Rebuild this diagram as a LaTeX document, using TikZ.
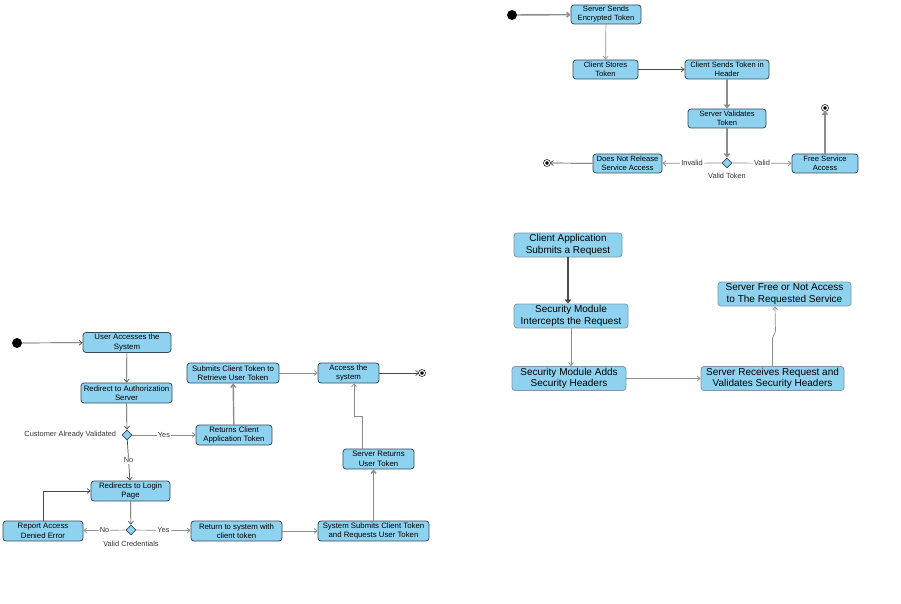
\documentclass[tikz,border=0pt]{standalone}
\usepackage{fontspec}
\setmainfont{Liberation Sans}
\usetikzlibrary{shapes.geometric,arrows.meta,positioning,calc}
\definecolor{boxfill}{HTML}{8FD2F0}
\definecolor{boxline}{HTML}{34495A}
\definecolor{softline}{HTML}{7D97A8}
\definecolor{arrdark}{HTML}{4A4A4A}
\definecolor{arrgray}{HTML}{8C8C8C}

\begin{document}
\begin{tikzpicture}[x=1pt, y=-1pt,
  act/.style={rectangle, draw=boxline, fill=boxfill, rounded corners=3pt, minimum width=#1, align=center, inner sep=1pt, line width=0.8pt},
  actS/.style={act=#1, minimum height=19pt, font=\fontsize{7.6}{9}\selectfont},
  actM/.style={act=#1, minimum height=20pt, font=\fontsize{7.8}{9.5}\selectfont},
  actL/.style={act=#1, draw=softline, minimum height=24pt, font=\fontsize{10}{11.5}\selectfont},
  choice/.style={diamond, draw=boxline, fill=boxfill, minimum size=10pt, inner sep=0pt, line width=0.8pt},
  startdot/.style={circle, fill=black, minimum size=10pt, inner sep=0pt},
  enddot/.style={circle, draw=black, fill=black, minimum size=5pt, inner sep=0pt, double=white, double distance=1.2pt, line width=0.6pt},
  arr/.style={-{Straight Barb[length=3pt, width=5pt]}, arrdark, line width=0.7pt},
  arrG/.style={-{Straight Barb[length=3pt, width=5pt]}, arrgray, line width=1.4pt},
  arrL/.style={-{Straight Barb[length=3pt, width=5pt]}, arrgray, line width=0.7pt},
  guard/.style={fill=white, inner sep=1pt, font=\fontsize{7.4}{8}\selectfont, text=black!80},
  notelabel/.style={font=\fontsize{7.4}{8}\selectfont, text=black!80}
]
  \useasboundingbox (0,0) rectangle (901,604);

  % token flow
  \node[startdot] (tst) at (512,15) {};
  \node[actS=70pt] (t1) at (606,14.5)   {Server Sends\\Encrypted Token};
  \node[actS=65pt] (t2) at (605.5,69.5) {Client Stores\\Token};
  \node[actS=84pt] (t3) at (727,69.5)   {Client Sends Token in\\Header};
  \node[actS=78pt] (t4) at (727,118.5)  {Server Validates\\Token};
  \node[choice]    (tdc) at (727,163) {};
  \node[notelabel, below=1pt of tdc] (tcap) {Valid Token};
  \node[actS=69pt] (t5) at (627.5,163.5) {Does Not Release\\Service Access};
  \node[actS=66pt] (t6) at (825,163.5)   {Free Service\\Access};
  \node[enddot] (tend1) at (547,163) {};
  \node[enddot] (tend2) at (825,108) {};

  \draw[arrG] (tst) -- (t1);
  \draw[arrL] (t1) -- (t2);
  \draw[arr]  (t2) -- (t3);
  \draw[arrG] (t3) -- (t4);
  \draw[arrG] (t4) -- (tdc);
  \draw[arrL] (tdc) -- node[guard] {Invalid} (t5);
  \draw[arrL] (tdc) -- node[guard] {Valid} (t6);
  \draw[arr]  (t5) -- (tend1);
  \draw[arrG] (t6) -- (tend2);

  % authorization flow
  \node[startdot] (ast) at (17,343) {};
  \node[actM=88pt]  (a1) at (127,342.5)  {User Accesses the\\System};
  \node[actM=91pt]  (a2) at (126.5,393)  {Redirect to Authorization\\Server};
  \node[choice]     (adc1) at (127,435) {};
  \node[notelabel, left=2pt of adc1] (acap1) {Customer Already Validated};
  \node[actM=76pt]  (a3) at (234,435)    {Returns Client\\Application Token};
  \node[actM=92pt]  (a4) at (233,373)    {Submits Client Token to\\Retrieve User Token};
  \node[actM=61pt]  (a5) at (348.5,373)  {Access the\\system};
  \node[enddot]     (aend) at (422,373) {};
  \node[actM=79pt]  (a6) at (130.5,491)  {Redirects to Login\\Page};
  \node[choice]     (adc2) at (131,530) {};
  \node[notelabel, below=2pt of adc2] (acap2) {Valid Credentials};
  \node[actM=80pt]  (a7) at (43,531)     {Report Access\\Denied Error};
  \node[actM=91pt]  (a8) at (236.5,531)  {Return to system with\\client token};
  \node[actM=111pt] (a9) at (373.5,531)  {System Submits Client Token\\and Requests User Token};
  \node[actM=71pt]  (a10) at (378.5,459) {Server Returns\\User Token};

  \draw[arr]  (ast) -- (a1);
  \draw[arr]  (a1) -- (a2);
  \draw[arr]  (a2) -- (adc1);
  \draw[arrL] (adc1) -- node[guard] {Yes} (a3);
  \draw[arrG] (a3) -- (a4);
  \draw[arrL] (a4) -- (a5);
  \draw[arr]  (a5) -- (aend);
  \draw[arr]  (adc1) -- node[guard] {No} (a6);
  \draw[arr]  (a6) -- (adc2);
  \draw[arrL] (adc2) -- node[guard] {No} (a7);
  \draw[arrL] (adc2) -- node[guard] {Yes} (a8);
  \draw[arr]  (a7.north) |- (a6.west);
  \draw[arrL] (a8) -- (a9);
  \draw[arrG] (a9.north) -- (a9.north |- a10.south);
  \draw[arrL] ([xshift=-16.5pt]a10.north) -- ++(0,-32) -| ([xshift=5.5pt]a5.south);

  % security module flow
  \node[actL=108pt] (m1) at (568,245)   {Client Application\\Submits a Request};
  \node[actL=114pt] (m2) at (571,316)   {Security Module\\Intercepts the Request};
  \node[actL=114pt] (m3) at (569,378.5) {Security Module Adds\\Security Headers};
  \node[actL=143pt] (m4) at (772.5,378.5) {Server Receives Request and\\Validates Security Headers};
  \node[actL=133pt] (m5) at (784.5,294) {Server Free or Not Access\\to The Requested Service};

  \draw[arrG, arrdark] (m1.south) -- (m1.south |- m2.north);
  \draw[arrL] (m2.south) -- (m2.south |- m3.north);
  \draw[arrL] (m3) -- (m4);
  \draw[arrL, rounded corners=2pt] (m4.north) -- ++(0,-30) -- ++(3,-3) -- ([xshift=-9.5pt]m5.south);
\end{tikzpicture}
\end{document}
